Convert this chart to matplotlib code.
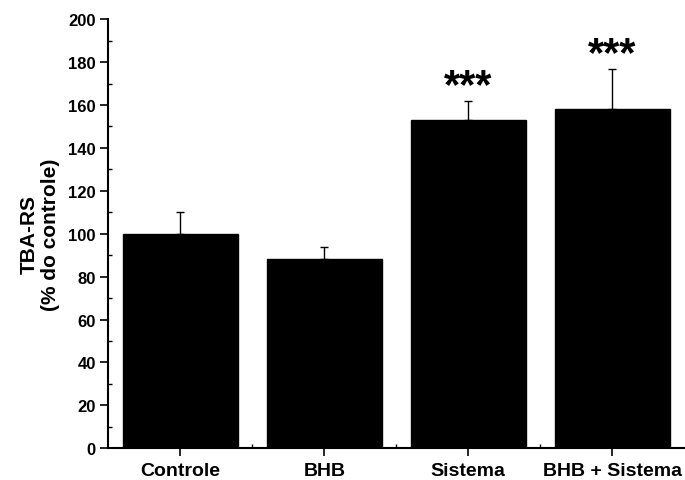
import matplotlib
matplotlib.use('Agg')
import matplotlib.pyplot as plt
import numpy as np
from matplotlib.ticker import MultipleLocator, FixedLocator

plt.rcParams['font.family'] = ['Liberation Sans', 'DejaVu Sans']
plt.rcParams['font.weight'] = 'bold'

grupos = ['Controle', 'BHB', 'Sistema', 'BHB + Sistema']
medias = [100, 88, 153, 158]
erros = [10, 6, 9, 19]
signif = ['', '', '***', '***']

fig = plt.figure(figsize=(6.85, 4.81), dpi=100)
ax = fig.add_axes([0.158, 0.066, 0.841, 0.892])

x = np.arange(len(grupos))
ax.bar(x, medias, width=0.8, color='black', edgecolor='black', zorder=2)
ax.errorbar(x, medias, yerr=[np.zeros(len(erros)), erros], fmt='none',
            ecolor='black', elinewidth=1, capsize=3, capthick=1, zorder=1)

# asteriscos logo acima da barra de erro
for xi, m, e, s in zip(x, medias, erros, signif):
    if s:
        ax.text(xi, m + e - 2.5, s, ha='center', va='bottom', fontsize=30,
                fontweight='bold')

ax.set_xlim(-0.5, 3.5)
ax.set_ylim(0, 200)
ax.set_xticks(x)
ax.set_xticklabels(grupos, fontsize=14, fontweight='bold')
ax.xaxis.set_minor_locator(FixedLocator([0.5, 1.5, 2.5]))
ax.yaxis.set_major_locator(MultipleLocator(20))
ax.yaxis.set_minor_locator(MultipleLocator(10))
for lab in ax.get_yticklabels():
    lab.set_fontsize(12)
    lab.set_fontweight('bold')

ax.tick_params(axis='both', which='major', direction='out', length=6, width=1.2)
ax.tick_params(axis='both', which='minor', direction='in', length=3, width=1)
ax.tick_params(axis='y', which='major', pad=3)
ax.tick_params(axis='x', which='major', pad=4)

ax.spines['top'].set_visible(False)
ax.spines['right'].set_visible(False)
ax.spines['left'].set_linewidth(1.5)
ax.spines['bottom'].set_linewidth(1.5)

ax.set_ylabel('TBA-RS\n(% do controle)', fontsize=15, fontweight='bold',
              labelpad=6, linespacing=1.15)

fig.savefig('out.png', dpi=100)
